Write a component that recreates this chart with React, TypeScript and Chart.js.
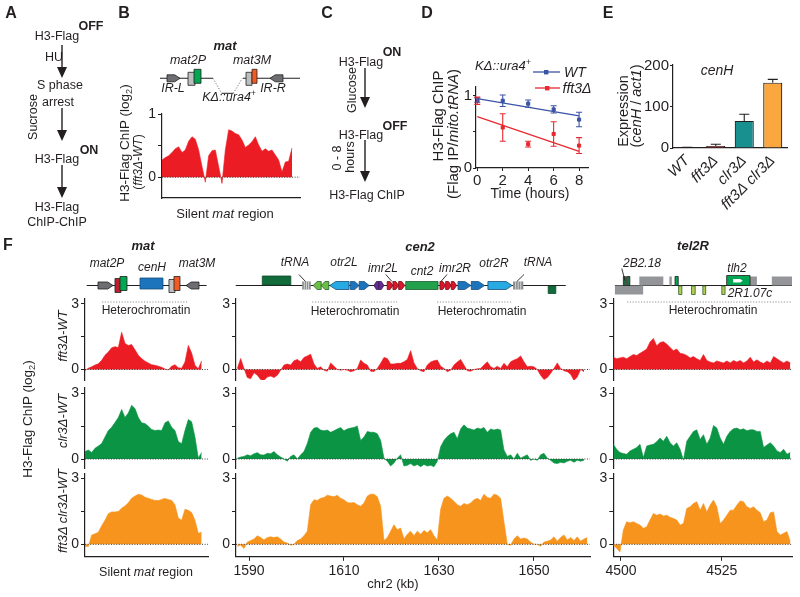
import React, { useEffect, useRef } from 'react';
import { Chart, registerables } from 'chart.js';

Chart.register(...registerables);

const FONT = "'Liberation Sans', Arial, Helvetica, sans-serif";
Chart.defaults.font.family = FONT;
Chart.defaults.color = '#231f20';
const INK = '#231f20';

// ===================== DATA =====================
// Panel B: fft3Δ - WT, H3-Flag ChIP (log2) along the silent mat region (probe index)
const B_VALUES = [0.27, 0.31, 0.34, 0.39, 0.45, 0.48, 0.39, 0.43, 0.57, 0.64, 0.6, 0.43, 0.17, -0.08, 0.34, 0.42, 0.43, 0.17, -0.1, 0.43, 0.75, 0.73, 0.69, 0.67, 0.59, 0.47, 0.51, 0.56, 0.64, 0.51, 0.41, 0.45, 0.41, 0.43, 0.35, 0.27, 0.08, 0.24, 0.25, 0.46];

// Panel D: H3-Flag ChIP over time
const D_TIMES = [0, 2, 4, 6, 8];
const D_WT = [0.94, 0.93, 0.89, 0.81, 0.67];
const D_WT_ERR = [0.03, 0.08, 0.05, 0.05, 0.1];
const D_FFT3 = [0.93, 0.56, 0.33, 0.47, 0.31];
const D_FFT3_ERR = [0.05, 0.19, 0.04, 0.17, 0.11];
const D_FIT_TIMES = [0, 8];
const D_WT_FIT = [0.96, 0.72];
const D_FFT3_FIT = [0.71, 0.23];
const D_X_TICKS = [0, 2, 4, 6, 8];

// Panel E: cenH expression
const E_STRAINS = ['WT', 'fft3Δ', 'clr3Δ', 'fft3Δ clr3Δ'];
const E_VALUES = [1, 5, 66, 159];
const E_ERR = [0.5, 4, 16, 8];
const E_COLORS = ['#3a3a3a', '#d7262d', '#17908f', '#f9a73e'];

// Panel F, mat column (probe index)
const MAT_FFT3 = [-0.05, 0.06, 0.12, 0.2, 0.26, 0.42, 0.65, 0.8, 0.99, 1.04, 1.0, 1.7, 1.19, 1.1, 1.14, 0.9, 0.65, 0.5, 0.38, 0.3, 0.22, 0.19, 0.15, 0.1, 0.02, -0.02, 0.15, 0.22, 0.08, 0.06, 0.34, 1.1, 0.75, 0.19, 0.03, 0.4];
const MAT_CLR3 = [0.34, 0.41, 0.3, 0.49, 0.59, 0.71, 1.0, 1.3, 1.45, 1.67, 1.89, 2.26, 1.9, 2.1, 2.45, 2.3, 1.9, 1.65, 1.62, 1.5, 1.35, 1.3, 1.32, 1.3, 1.65, 1.74, 1.45, 1.3, 0.8, 0.7, 1.3, 1.8, 1.7, 1.0, 0.05, 0.3];
const MAT_DOUBLE = [-0.1, -0.1, 0.42, 0.48, 0.55, 0.85, 1.1, 1.4, 1.48, 1.48, 1.5, 1.65, 1.75, 1.9, 2.1, 2.2, 2.28, 2.25, 2.15, 2.1, 2.05, 2.0, 2.0, 2.05, 2.09, 2.05, 2.0, 1.8, 1.2, 1.1, 1.6, 1.55, 1.45, 1.1, 0.5, 0.55];

// Panel F, cen2 column (chr2 kb; probes from CEN2_START every CEN2_STEP kb)
const CEN2_START = 1587.54;
const CEN2_STEP = 0.7018;
const CEN2_FFT3 = [0.05, 0.5, 0.05, -0.37, -0.42, -0.15, -0.26, -0.46, -0.5, -0.34, -0.3, -0.37, -0.26, -0.03, 0.2, 0.25, 0.2, 0.4, 0.46, 0.35, 0.55, 0.62, 0.7, 0.25, 0.05, 0.12, -0.03, -0.08, 0.3, 0.15, 0, -0.03, 0, -0.03, -0.1, -0.06, 0.05, 0.43, 0.28, 0.2, -0.08, -0.09, 0.05, 0.28, 0.55, 0.5, 0.25, 0.25, 0.28, 0.28, 0.35, 0.46, 0.86, 0.3, 0.05, -0.06, -0.1, 0.2, 0.34, 0.4, 0.43, 0.15, 0.05, -0.1, -0.03, 0.2, 0.34, 0.46, 0.2, -0.06, -0.08, 0, 0.03, 0.05, 0.2, 0.35, 0.12, 0.05, 0.15, 0.05, 0.28, 0.12, 0.35, 0.43, 0.49, 0.62, 0.35, 0.12, 0.15, 0.12, 0, -0.26, -0.46, -0.37, -0.18, 0.05, 0.3, 0.05, -0.06, -0.1, -0.22, -0.5, -0.34, 0, -0.1];
const CEN2_CLR3 = [0.04, 0.09, 0.12, 0.19, 0.15, 0.24, 0.29, 0.19, 0.18, 0.26, 0.24, 0.34, 0.19, 0.09, 0, -0.1, 0.12, 0.19, 0, 0.19, 0.34, 0.71, 1.22, 1.41, 1.44, 1.32, 1.29, 1.32, 1.22, 1.29, 1.37, 1.44, 1.29, 1.37, 1.41, 1.44, 1.51, 0.85, 1.0, 1.26, 1.22, 1.22, 1.15, 0.85, 0.04, -0.1, -0.32, -0.18, 0.04, 0.19, -0.32, -0.29, -0.21, -0.32, -0.25, -0.35, -0.25, -0.32, -0.29, -0.35, -0.1, 0.56, 0.85, 1.03, 1.15, 1.22, 0.93, 1.37, 1.56, 1.41, 1.37, 1.32, 1.41, 1.37, 1.44, 1.22, 1.37, 1.32, 1.37, 1.32, 0.41, 0.12, 0.19, 0, 0.26, 0.04, 0.12, 0.19, -0.06, 0, -0.06, 0.19, 0.26, 0.04, -0.06, -0.18, -0.21, -0.15, -0.18, -0.1, -0.06, -0.15, -0.06, -0.1, -0.06];
const CEN2_DOUBLE = [-0.09, -0.04, -0.19, 0.1, 0.17, 0.24, 0.39, 0.31, 0.2, 0.31, 0.34, 0.31, 0.34, 0.24, 0.1, 0.06, -0.04, 0, 0.17, 0.24, 0.39, 0.6, 1.81, 2.03, 2.0, 2.1, 2.14, 2.24, 2.2, 2.17, 2.24, 2.1, 2.03, 1.91, 1.89, 1.91, 1.81, 1.74, 1.89, 2.2, 2.29, 2.29, 2.17, 1.74, 0.17, 0.31, 0.6, 0.89, 0.67, 0.74, 0.24, 0.46, 0.6, 0.39, 0.6, 0.46, 0.63, 0.53, 0.67, 0.39, 0.2, 1.6, 2.1, 2.2, 2.1, 1.96, 1.81, 1.74, 1.86, 1.81, 1.89, 2.03, 2.1, 2.0, 2.29, 2.14, 2.1, 2.29, 2.24, 2.1, 1.03, 0, -0.04, 0.24, 0.39, 0.24, 0.29, 0.24, 0.1, 0, 0, -0.09, 0.1, 0.14, 0.2, 0.34, 0.14, 0.31, 0.43, 0.2, 0.31, 0.17, 0.34, 0.14, 0.24, 0.31];
const CEN2_TICKS = [1590, 1610, 1630, 1650];

// Panel F, tel2R column (kb; probes from TEL_START every TEL_STEP kb)
const TEL_START = 4498.1;
const TEL_STEP = 0.828;
const TEL_FFT3 = [0.56, 0.49, 0.53, 0.56, 0.49, 0.59, 0.68, 0.64, 0.74, 0.83, 0.93, 1.25, 1.42, 1.08, 1.23, 1.27, 1.16, 1.0, 0.86, 0.93, 0.74, 0.71, 0.64, 0.53, 0.59, 0.49, 0.41, 0.68, 0.41, 0.34, 0.3, 0.39, 0.34, 0.3, 0.39, 0.3, 0.41, 0.34, 0.41, 0.3, 0.39, 0.56, 0.34, 0.44, 0.34, 0.27, 0.39, 0.3, 0.59, 0.49, 0.39, 0.3, 0.39, 0.3];
const TEL_CLR3 = [0.67, 0.44, 0.3, 0.25, 0.22, 0.37, 0.44, 0.52, 0.67, 0.07, 0.59, 0.64, 0.67, 0.79, 0.96, 0.81, 1.04, 0.74, 0.59, 0.74, 0.44, -0.05, 0.81, 1.04, 1.26, 1.33, 0.89, 1.11, 0.67, 0.96, 1.53, 1.41, 0.96, 0.67, 1.04, 1.26, 1.38, 1.41, 1.33, 1.38, 1.29, 1.33, 1.33, 1.26, 1.26, 0.52, 0.64, 0.74, 0.59, 0.37, 0.3, 0.44, 0.22, 0.3];
const TEL_DOUBLE = [-0.03, -0.18, -0.35, 0.65, 1.03, 0.98, 1.03, 0.95, 0.88, 0.73, 0.8, 1.11, 1.41, 1.33, 1.38, 1.29, 1.33, 1.23, 1.18, 1.11, 0.88, 0.95, 1.64, 1.71, 1.86, 1.94, 1.56, 1.86, 1.48, 1.79, 2.02, 1.71, 0.95, 1.11, 1.33, 1.56, 1.56, 1.79, 1.98, 1.94, 1.71, 1.64, 1.71, 1.56, 1.44, 1.03, 1.11, 1.44, 1.48, 0.58, 0.42, 0.5, 0.58, 0.12];
const TEL_TICKS = [4500, 4525];

const ROW_Y_TICKS = [0, 1.5, 3];
const ROW_Y_LABELS = [0, 3];

// Schematic features: [kind, start, end] in each panel's x units
type Feat = [string, number, number];
const B_FEATURES: Feat[] = [
  ['line', -0.6, 15.3], ['line', 24.3, 41.4],
  ['gapDown', 15.3, 17.9], ['gapFlat', 17.9, 21.4], ['gapUp', 21.4, 24.1],
  ['irR', 1.5, 5.4], ['lgray', 7.8, 9.9], ['mat2P', 9.6, 11.7],
  ['lgray', 25.2, 27.0], ['mat3M', 27.0, 28.5], ['irL', 32.4, 36.3],
];
const MAT_FEATURES: Feat[] = [
  ['line', 0.5, 36.5], ['irR', 3.9, 8.4], ['mat2Pred', 9.0, 10.8], ['mat2P', 10.5, 12.6],
  ['cenH', 16.5, 23.4], ['lgray', 25.2, 27.0], ['mat3M', 26.7, 28.5], ['irL', 30.3, 34.2],
  ['hetero', 5.1, 30.9],
];
const CEN2_FEATURES: Feat[] = [
  ['line', 1587.2, 1656.7],
  ['geneUp', 1592.8, 1598.8],
  ['trna', 1601.2, 1603.0],
  ['otrG', 1603.5, 1605.2], ['otrG', 1605.2, 1606.8],
  ['dhL', 1607.0, 1611.05],
  ['dgR', 1611.3, 1613.2], ['dgR', 1613.2, 1615.3],
  ['imrPL', 1616.3, 1617.35], ['imrPR', 1617.35, 1618.4],
  ['imrR', 1619.1, 1620.3], ['imrR', 1620.3, 1621.5], ['imrR', 1621.5, 1622.8],
  ['cnt', 1623.0, 1629.8],
  ['imrR', 1630.2, 1631.4], ['imrR', 1631.4, 1632.6], ['imrR', 1632.6, 1633.7],
  ['dgR', 1634.0, 1636.7], ['dgR', 1636.8, 1639.6],
  ['dhR', 1640.3, 1645.4],
  ['trna', 1645.6, 1647.75],
  ['geneDown', 1653.0, 1654.6],
  ['pointer', 1600.5, 1601.9], ['pointer', 1647.9, 1646.4], ['pointer', 1618.8, 1620.1], ['pointer', 1631.7, 1630.4],
  ['hetero', 1603.3, 1621.2], ['hetero', 1629.6, 1645.2],
];
const TEL_FEATURES: Feat[] = [
  ['line', 4498.5, 4542.4],
  ['telGrayDown', 4498.5, 4505.5],
  ['tel2B', 4500.6, 4501.1], ['tel2B', 4501.4, 4502.2],
  ['telGray', 4504.55, 4510.5], ['telGray', 4512.0, 4512.6],
  ['telGreen', 4513.4, 4514.2],
  ['olive', 4514.3, 4515.1], ['olive', 4517.5, 4518.4], ['olive', 4520.3, 4521.0], ['olive', 4525.0, 4525.8],
  ['telGray', 4531.2, 4533.7],
  ['tlh2', 4526.2, 4532.0], ['tlh2Arrow', 4527.8, 4530.2],
  ['telGray', 4537.4, 4542.4],
  ['pointerTall', 4500.2, 4501.0],
  ['hetero', 4501.5, 4542.4],
];

// ===================== STYLES =====================
const RED = '#ec1c24';
const GREEN = '#0b9444';
const ORANGE = '#f7941d';
const BLUE = '#3b54a5';
const DRED = '#e8282f';

type FStyle = { shape: string; y0: number; y1: number; fill?: string; stroke?: string; dash?: boolean; lw?: number; noStroke?: boolean };
const FEAT_STYLE: Record<string, FStyle> = {
  line: { shape: 'seg', y0: 0, y1: 0, stroke: INK, lw: 1.1 },
  gapDown: { shape: 'seg', y0: 0, y1: 15, stroke: '#555', dash: true },
  gapFlat: { shape: 'seg', y0: 15, y1: 15, stroke: INK, lw: 1 },
  gapUp: { shape: 'seg', y0: 15, y1: 0, stroke: '#555', dash: true },
  hetero: { shape: 'seg', y0: 16.5, y1: 16.5, stroke: '#777', dash: true },
  pointer: { shape: 'seg', y0: -11, y1: -4, stroke: INK, lw: 0.9 },
  pointerTall: { shape: 'seg', y0: -17, y1: -5, stroke: INK, lw: 0.9 },
  irR: { shape: 'arrowR', y0: -3.5, y1: 3.5, fill: '#6d6e71' },
  irL: { shape: 'arrowL', y0: -3.5, y1: 3.5, fill: '#6d6e71' },
  lgray: { shape: 'box', y0: -6, y1: 7, fill: '#bcbec0' },
  mat2P: { shape: 'box', y0: -9, y1: 5, fill: '#00a651' },
  mat2Pred: { shape: 'box', y0: -7, y1: 7, fill: '#be1e2d' },
  mat3M: { shape: 'box', y0: -9, y1: 5, fill: '#f15a24' },
  cenH: { shape: 'box', y0: -7.5, y1: 3.5, fill: '#1c75bc', stroke: '#1b4b7a' },
  trna: { shape: 'trna', y0: -4, y1: 4, fill: '#8a8c8e', noStroke: true },
  otrG: { shape: 'arrowL', y0: -4, y1: 4, fill: '#6abd45', stroke: '#275e2a' },
  dhL: { shape: 'arrowL', y0: -4, y1: 4, fill: '#27aae1', stroke: '#1f4e79' },
  dhR: { shape: 'arrowR', y0: -4, y1: 4, fill: '#27aae1', stroke: '#1f4e79' },
  dgR: { shape: 'arrowR', y0: -4, y1: 4, fill: '#1c75bc', stroke: '#1f4e79' },
  imrPL: { shape: 'arrowL', y0: -4, y1: 4, fill: '#662d91', stroke: '#3b1a55' },
  imrPR: { shape: 'arrowR', y0: -4, y1: 4, fill: '#662d91', stroke: '#3b1a55' },
  imrR: { shape: 'arrowR', y0: -4, y1: 4, fill: '#d7182a', stroke: '#7a0d16' },
  cnt: { shape: 'box', y0: -4, y1: 4, fill: '#22a04b', stroke: '#1a5e2f' },
  geneUp: { shape: 'box', y0: -9.5, y1: -0.5, fill: '#126b3b', stroke: '#0c4a28' },
  geneDown: { shape: 'box', y0: 0.5, y1: 8, fill: '#126b3b', stroke: '#0c4a28' },
  telGray: { shape: 'box', y0: -9, y1: 0, fill: '#939598', noStroke: true },
  telGrayDown: { shape: 'box', y0: 0, y1: 9, fill: '#939598', noStroke: true },
  tel2B: { shape: 'box', y0: -9, y1: 0, fill: '#1f6f43' },
  telGreen: { shape: 'box', y0: -9, y1: 0, fill: '#00a651' },
  olive: { shape: 'box', y0: 0.5, y1: 9, fill: '#b5cf4f', stroke: '#2c5e2e' },
  tlh2: { shape: 'box', y0: -10, y1: 0, fill: '#00a651', stroke: INK },
  tlh2Arrow: { shape: 'arrowR', y0: -6.5, y1: -3, fill: '#ffffff', noStroke: true },
};

// ===================== HELPERS =====================
type Rect = { l: number; t: number; w: number; h: number };
type Area = { l: number; t: number; r: number; b: number };

function framing(c: Rect, a: Area) {
  return { yW: a.l - c.l, padTop: a.t - c.t, padRight: c.l + c.w - a.r, xH: c.t + c.h - a.b };
}

function drawFeatures(chart: any, feats: Feat[], lineY: number) {
  const ctx = chart.ctx;
  const xs = chart.scales.x;
  ctx.save();
  for (const [kind, a, b] of feats) {
    const st = FEAT_STYLE[kind];
    if (!st) continue;
    const x0 = xs.getPixelForValue(a);
    const x1 = xs.getPixelForValue(b);
    const y0 = lineY + st.y0;
    const y1 = lineY + st.y1;
    ctx.setLineDash(st.dash ? [1.2, 1.6] : []);
    ctx.lineWidth = st.lw ?? 0.8;
    ctx.strokeStyle = st.stroke ?? INK;
    ctx.beginPath();
    if (st.shape === 'seg') {
      ctx.moveTo(x0, y0);
      ctx.lineTo(x1, y1);
      ctx.stroke();
      continue;
    }
    const left = Math.min(x0, x1);
    const right = Math.max(x0, x1);
    const h = y1 - y0;
    const mid = (y0 + y1) / 2;
    const hd = Math.min(h * 0.75, (right - left) * 0.5);
    if (st.shape === 'box' || st.shape === 'trna') {
      ctx.rect(left, y0, right - left, h);
    } else if (st.shape === 'arrowR') {
      ctx.moveTo(left, y0);
      ctx.lineTo(right - hd, y0);
      ctx.lineTo(right, mid);
      ctx.lineTo(right - hd, y1);
      ctx.lineTo(left, y1);
      ctx.closePath();
    } else if (st.shape === 'arrowL') {
      ctx.moveTo(right, y0);
      ctx.lineTo(left + hd, y0);
      ctx.lineTo(left, mid);
      ctx.lineTo(left + hd, y1);
      ctx.lineTo(right, y1);
      ctx.closePath();
    }
    ctx.fillStyle = st.fill ?? 'transparent';
    ctx.fill();
    if (!st.noStroke) ctx.stroke();
    if (st.shape === 'trna') {
      ctx.strokeStyle = '#e6e7e8';
      ctx.lineWidth = 0.8;
      ctx.beginPath();
      for (let k = 1; k < 4; k++) {
        const xx = left + ((right - left) * k) / 4;
        ctx.moveTo(xx, y0);
        ctx.lineTo(xx, y1);
      }
      ctx.stroke();
    }
  }
  ctx.restore();
}

function errorBarPlugin(cap: number, upOnly: boolean) {
  return {
    id: 'errbars',
    afterDatasetsDraw(chart: any) {
      const ctx = chart.ctx;
      const ys = chart.scales.y;
      chart.data.datasets.forEach((ds: any, di: number) => {
        if (!ds.errors) return;
        const meta = chart.getDatasetMeta(di);
        ctx.save();
        ctx.strokeStyle = ds.errColor || ds.borderColor;
        ctx.lineWidth = 1.1;
        meta.data.forEach((el: any, i: number) => {
          const raw = ds.data[i];
          const v = typeof raw === 'number' ? raw : raw.y;
          const e = ds.errors[i];
          const top = ys.getPixelForValue(v + e);
          const bot = upOnly ? ys.getPixelForValue(v) : ys.getPixelForValue(v - e);
          const x = el.x;
          ctx.beginPath();
          ctx.moveTo(x, top);
          ctx.lineTo(x, bot);
          ctx.moveTo(x - cap / 2, top);
          ctx.lineTo(x + cap / 2, top);
          if (!upOnly) {
            ctx.moveTo(x - cap / 2, bot);
            ctx.lineTo(x + cap / 2, bot);
          }
          ctx.stroke();
        });
        ctx.restore();
      });
    },
  };
}

function yAxis(p: { min: number; max: number; ticks: number[]; labeled: number[]; yW: number; size: number; tl?: number; pad?: number }) {
  return {
    type: 'linear',
    position: 'left',
    min: p.min,
    max: p.max,
    afterBuildTicks: (s: any) => {
      s.ticks = p.ticks.map((v) => ({ value: v }));
    },
    afterFit: (s: any) => {
      s.width = p.yW;
    },
    grid: { display: true, drawOnChartArea: false, drawTicks: true, tickLength: p.tl ?? 4, color: INK, lineWidth: 1 },
    border: { display: true, color: INK, width: 1.2 },
    ticks: {
      font: { size: p.size },
      color: INK,
      padding: p.pad ?? 2,
      callback: (v: number) => (p.labeled.some((l) => Math.abs(l - v) < 1e-9) ? String(v) : ''),
    },
  };
}

function xAxisLinear(p: { min: number; max: number; xH: number; ticks?: number[]; line: boolean; size?: number }) {
  const showTicks = !!(p.ticks && p.ticks.length);
  return {
    type: 'linear',
    position: 'bottom',
    min: p.min,
    max: p.max,
    afterBuildTicks: (s: any) => {
      s.ticks = (p.ticks || []).map((v) => ({ value: v }));
    },
    afterFit: (s: any) => {
      s.height = p.xH;
    },
    grid: { display: showTicks, drawOnChartArea: false, drawTicks: showTicks, tickLength: 4, color: INK, lineWidth: 1 },
    border: { display: p.line, color: INK, width: 1.2 },
    ticks: { display: showTicks, font: { size: p.size ?? 14 }, color: INK, padding: 2, callback: (v: number) => String(v) },
  };
}

type ProfileOpts = {
  rect: Rect;
  area: Area;
  x0: number;
  dx: number;
  ys: number[];
  color: string;
  xMin: number;
  xMax: number;
  yMin: number;
  yMax: number;
  yTicks: number[];
  yLabeled: number[];
  xTicks?: number[];
  xLine: boolean;
  feats?: Feat[];
  lineY?: number;
};

function profileConfig(o: ProfileOpts) {
  const f = framing(o.rect, o.area);
  const pts = o.ys.map((y, i) => ({ x: o.x0 + i * o.dx, y }));
  const plugins: any[] = [];
  if (o.feats) {
    const feats = o.feats;
    const ly = (o.lineY as number) - o.rect.t;
    plugins.push({ id: 'schematic', afterDraw: (c: any) => drawFeatures(c, feats, ly) });
  }
  return {
    type: 'line',
    data: {
      datasets: [
        {
          data: [{ x: o.xMin, y: 0 }, { x: o.xMax, y: 0 }],
          borderColor: '#3a3a3a',
          borderWidth: 1,
          borderDash: [1, 1.6],
          pointRadius: 0,
          fill: false,
          order: 0,
        },
        {
          data: pts,
          borderColor: o.color,
          backgroundColor: o.color,
          borderWidth: 0.6,
          pointRadius: 0,
          fill: 'origin',
          tension: 0,
          order: 1,
        },
      ],
    },
    options: {
      responsive: false,
      animation: false,
      events: [],
      layout: { padding: { top: f.padTop, right: f.padRight, left: 0, bottom: 0 } },
      plugins: { legend: { display: false }, tooltip: { enabled: false } },
      scales: {
        x: xAxisLinear({ min: o.xMin, max: o.xMax, xH: f.xH, ticks: o.xTicks, line: o.xLine }),
        y: yAxis({ min: o.yMin, max: o.yMax, ticks: o.yTicks, labeled: o.yLabeled, yW: f.yW, size: 14 }),
      },
    },
    plugins,
  };
}

function dConfig(rect: Rect, area: Area) {
  const f = framing(rect, area);
  return {
    type: 'line',
    data: {
      datasets: [
        { data: D_FIT_TIMES.map((t, i) => ({ x: t, y: D_WT_FIT[i] })), borderColor: BLUE, borderWidth: 1.3, pointRadius: 0, fill: false },
        { data: D_FIT_TIMES.map((t, i) => ({ x: t, y: D_FFT3_FIT[i] })), borderColor: DRED, borderWidth: 1.3, pointRadius: 0, fill: false },
        { data: D_TIMES.map((t, i) => ({ x: t, y: D_WT[i] })), showLine: false, pointStyle: 'rect', pointRadius: 2.2, backgroundColor: BLUE, borderColor: BLUE, errors: D_WT_ERR },
        { data: D_TIMES.map((t, i) => ({ x: t, y: D_FFT3[i] })), showLine: false, pointStyle: 'rect', pointRadius: 2.2, backgroundColor: DRED, borderColor: DRED, errors: D_FFT3_ERR },
      ],
    },
    options: {
      responsive: false,
      animation: false,
      events: [],
      layout: { padding: { top: f.padTop, right: f.padRight, left: 0, bottom: 0 } },
      plugins: { legend: { display: false }, tooltip: { enabled: false } },
      scales: {
        x: {
          type: 'linear',
          min: -0.1,
          max: 8.7,
          afterBuildTicks: (s: any) => {
            s.ticks = D_X_TICKS.map((v) => ({ value: v }));
          },
          afterFit: (s: any) => {
            s.height = f.xH;
          },
          grid: { display: true, drawOnChartArea: false, drawTicks: true, tickLength: 3, color: INK },
          border: { display: true, color: INK, width: 1.2 },
          ticks: { font: { size: 15 }, color: INK, padding: 1, callback: (v: number) => String(v) },
        },
        y: yAxis({ min: 0, max: 1.12, ticks: [0, 0.5, 1], labeled: [0, 1], yW: f.yW, size: 15, tl: 3, pad: 1 }),
      },
    },
    plugins: [errorBarPlugin(6, false)],
  };
}

function eConfig(rect: Rect, area: Area) {
  const f = framing(rect, area);
  return {
    type: 'bar',
    data: {
      labels: E_STRAINS,
      datasets: [
        {
          data: E_VALUES,
          backgroundColor: E_COLORS,
          borderColor: INK,
          borderWidth: 1.2,
          barPercentage: 0.67,
          categoryPercentage: 1,
          errors: E_ERR,
          errColor: INK,
        },
      ],
    },
    options: {
      responsive: false,
      animation: false,
      events: [],
      layout: { padding: { top: f.padTop, right: f.padRight, left: 0, bottom: 0 } },
      plugins: { legend: { display: false }, tooltip: { enabled: false } },
      scales: {
        x: {
          type: 'category',
          afterFit: (s: any) => {
            s.height = f.xH;
          },
          grid: { display: false, drawTicks: false },
          border: { display: true, color: INK, width: 1.2 },
          ticks: { font: { size: 15, style: 'italic' }, color: INK, minRotation: 45, maxRotation: 45, padding: 4, autoSkip: false },
        },
        y: yAxis({ min: 0, max: 202, ticks: [0, 100, 200], labeled: [0, 100, 200], yW: f.yW, size: 15, tl: 3, pad: 1 }),
      },
    },
    plugins: [errorBarPlugin(10, true)],
  };
}

function ChartCanvas({ rect, config }: { rect: Rect; config: () => any }) {
  const ref = useRef<HTMLCanvasElement | null>(null);
  useEffect(() => {
    if (!ref.current) return;
    const ch = new Chart(ref.current, config());
    return () => ch.destroy();
  }, []);
  return (
    <canvas
      ref={ref}
      width={rect.w}
      height={rect.h}
      style={{ position: 'absolute', left: rect.l, top: rect.t, width: rect.w, height: rect.h }}
    />
  );
}

function T(props: { x: number; y: number; s?: number; b?: boolean; i?: boolean; r?: number; c?: string; children: React.ReactNode }) {
  const { x, y, s = 13, b, i, r, c = INK, children } = props;
  return (
    <div
      style={{
        position: 'absolute',
        left: x,
        top: y,
        transform: `translate(-50%, -50%)${r ? ` rotate(${r}deg)` : ''}`,
        fontSize: s,
        fontWeight: b ? 700 : 400,
        fontStyle: i ? 'italic' : 'normal',
        color: c,
        whiteSpace: 'nowrap',
        lineHeight: 1,
      }}
    >
      {children}
    </div>
  );
}

const Sub = ({ children }: { children: React.ReactNode }) => (
  <span style={{ fontSize: '0.68em', verticalAlign: '-0.3em', lineHeight: 0 }}>{children}</span>
);
const Sup = ({ children }: { children: React.ReactNode }) => (
  <span style={{ fontSize: '0.68em', verticalAlign: '0.55em', lineHeight: 0 }}>{children}</span>
);

function Arrow({ x, y1, y2 }: { x: number; y1: number; y2: number }) {
  return (
    <g>
      <line x1={x} y1={y1} x2={x} y2={y2 - 8} stroke={INK} strokeWidth={1.4} />
      <polygon points={`${x - 5},${y2 - 11} ${x + 5},${y2 - 11} ${x},${y2}`} fill={INK} />
    </g>
  );
}

// ===================== LAYOUT =====================
const B_RECT: Rect = { l: 135, t: 40, w: 175, h: 172 };
const B_AREA: Area = { l: 162, t: 114, r: 300, b: 198 };
const D_RECT: Rect = { l: 440, t: 60, w: 155, h: 140 };
const D_AREA: Area = { l: 476, t: 87, r: 588, b: 168 };
const E_RECT: Rect = { l: 630, t: 50, w: 165, h: 160 };
const E_AREA: Area = { l: 673, t: 65, r: 787, b: 148 };

const GENE_LINE_Y = 285.5;
const B_LINE_Y = 78.3;

const F_COLS = [
  { l: 85, r: 208.3, cl: 60, cw: 155, xMin: 0, xMax: 37, x0: 0, dx: 1, feats: MAT_FEATURES, ticks: [] as number[], series: [MAT_FFT3, MAT_CLR3, MAT_DOUBLE] },
  { l: 236, r: 590, cl: 211, cw: 386, xMin: 1587.26, xMax: 1661.8, x0: CEN2_START, dx: CEN2_STEP, feats: CEN2_FEATURES, ticks: CEN2_TICKS, series: [CEN2_FFT3, CEN2_CLR3, CEN2_DOUBLE] },
  { l: 613.3, r: 792, cl: 588, cw: 210, xMin: 4498.1, xMax: 4542.4, x0: TEL_START, dx: TEL_STEP, feats: TEL_FEATURES, ticks: TEL_TICKS, series: [TEL_FFT3, TEL_CLR3, TEL_DOUBLE] },
];
const F_ROWS = [
  { t: 298.3, b: 380, yMin: -0.48, ct: 252, ch: 140, color: RED },
  { t: 387.8, b: 468, yMin: -0.41, ct: 376, ch: 104, color: GREEN },
  { t: 473.1, b: 556.8, yMin: -0.57, ct: 461, ch: 133, color: ORANGE },
];
const Y_MAX = 3.25;

export default function App() {
  const fCharts: React.ReactNode[] = [];
  F_COLS.forEach((col, ci) => {
    F_ROWS.forEach((row, ri) => {
      const rect: Rect = { l: col.cl, t: row.ct, w: col.cw, h: row.ch };
      const area: Area = { l: col.l, t: row.t, r: col.r, b: row.b };
      const last = ri === 2;
      fCharts.push(
        <ChartCanvas
          key={`f${ci}${ri}`}
          rect={rect}
          config={() =>
            profileConfig({
              rect,
              area,
              x0: col.x0,
              dx: col.dx,
              ys: col.series[ri],
              color: row.color,
              xMin: col.xMin,
              xMax: col.xMax,
              yMin: row.yMin,
              yMax: Y_MAX,
              yTicks: ROW_Y_TICKS,
              yLabeled: ROW_Y_LABELS,
              xTicks: last ? col.ticks : undefined,
              xLine: last,
              feats: ri === 0 ? col.feats : undefined,
              lineY: GENE_LINE_Y,
            })
          }
        />
      );
    });
  });

  return (
    <div style={{ position: 'absolute', left: 0, top: 0, width: 800, height: 597, background: '#fff', overflow: 'hidden', fontFamily: FONT, color: INK }}>
      <ChartCanvas
        rect={B_RECT}
        config={() =>
          profileConfig({
            rect: B_RECT,
            area: B_AREA,
            x0: 0,
            dx: 1,
            ys: B_VALUES,
            color: RED,
            xMin: 0,
            xMax: 41.4,
            yMin: -0.33,
            yMax: 1,
            yTicks: [0, 0.5, 1],
            yLabeled: [0, 1],
            xLine: true,
            feats: B_FEATURES,
            lineY: B_LINE_Y,
          })
        }
      />
      <ChartCanvas rect={D_RECT} config={() => dConfig(D_RECT, D_AREA)} />
      <ChartCanvas rect={E_RECT} config={() => eConfig(E_RECT, E_AREA)} />
      {fCharts}

      <svg width={800} height={597} style={{ position: 'absolute', left: 0, top: 0 }}>
        <Arrow x={62} y1={45} y2={78} />
        <Arrow x={62} y1={108} y2={141} />
        <Arrow x={62} y1={165} y2={198} />
        <Arrow x={365} y1={68} y2={108} />
        <Arrow x={365} y1={140} y2={182} />
        <line x1={533} y1={72} x2={560} y2={72} stroke={BLUE} strokeWidth={1.3} />
        <rect x={544} y={70} width={4.4} height={4.4} fill={BLUE} />
        <line x1={535} y1={88} x2={560} y2={88} stroke={DRED} strokeWidth={1.3} />
        <rect x={545} y={86} width={4.4} height={4.4} fill={DRED} />
      </svg>

      {/* panel letters */}
      <T x={11} y={13} s={16} b>A</T>
      <T x={124} y={13} s={16} b>B</T>
      <T x={327} y={13} s={16} b>C</T>
      <T x={427} y={13} s={16} b>D</T>
      <T x={608} y={13} s={16} b>E</T>
      <T x={8} y={245} s={16} b>F</T>

      {/* Panel A */}
      <T x={57} y={36} s={12.5}>H3-Flag</T>
      <T x={91} y={26} s={12.5} b>OFF</T>
      <T x={54} y={57} s={12.5}>HU</T>
      <T x={60} y={85} s={12.5}>S phase</T>
      <T x={58} y={102} s={12.5}>arrest</T>
      <T x={33} y={117} s={12.5} r={-90}>Sucrose</T>
      <T x={57} y={159} s={12.5}>H3-Flag</T>
      <T x={89} y={150} s={12.5} b>ON</T>
      <T x={57} y={207} s={12.5}>H3-Flag</T>
      <T x={57} y={222} s={12.5}>ChIP-ChIP</T>

      {/* Panel B */}
      <T x={225} y={45} s={13} b i>mat</T>
      <T x={188} y={60} s={12.5} i>mat2P</T>
      <T x={252} y={60} s={12.5} i>mat3M</T>
      <T x={173} y={88} s={12.5} i>IR-L</T>
      <T x={273} y={88} s={12.5} i>IR-R</T>
      <T x={229} y={97} s={12.5} i>KΔ::ura4<Sup>+</Sup></T>
      <T x={125} y={143} s={13.5} r={-90}>H3-Flag ChIP (log<Sub>2</Sub>)</T>
      <T x={138} y={162} s={12} r={-90}>(<i>fft3Δ-WT</i>)</T>
      <T x={225} y={213} s={13}>Silent <i>mat</i> region</T>

      {/* Panel C */}
      <T x={361} y={62} s={12.5}>H3-Flag</T>
      <T x={392} y={52} s={12.5} b>ON</T>
      <T x={352} y={90} s={12.5} r={-90}>Glucose</T>
      <T x={361} y={135} s={12.5}>H3-Flag</T>
      <T x={395} y={126} s={12.5} b>OFF</T>
      <T x={337} y={158} s={12.5} r={-90}>0 - 8</T>
      <T x={350} y={157} s={12.5} r={-90}>hours</T>
      <T x={367} y={195} s={12.5}>H3-Flag ChIP</T>

      {/* Panel D */}
      <T x={503} y={65} s={13} i>KΔ::ura4<Sup>+</Sup></T>
      <T x={575} y={72} s={14} i>WT</T>
      <T x={577} y={88} s={14} i>fft3Δ</T>
      <T x={437} y={116} s={15} r={-90}>H3-Flag ChIP</T>
      <T x={452} y={134} s={15} r={-90}>(Flag IP/<i>mito.tRNA</i>)</T>
      <T x={530} y={193} s={14}>Time (hours)</T>

      {/* Panel E */}
      <T x={717} y={70} s={14} i>cenH</T>
      <T x={623} y={111} s={14.5} r={-90}>Expression</T>
      <T x={636} y={106} s={14.5} r={-90}>(<i>cenH</i> / <i>act1</i>)</T>

      {/* Panel F headers */}
      <T x={143} y={245} s={13} b i>mat</T>
      <T x={420} y={246} s={13} b i>cen2</T>
      <T x={693} y={245} s={13} b i>tel2R</T>
      <T x={107} y={263} s={12} i>mat2P</T>
      <T x={152} y={267} s={12} i>cenH</T>
      <T x={197} y={263} s={12} i>mat3M</T>
      <T x={295} y={262} s={12} i>tRNA</T>
      <T x={344} y={262} s={12} i>otr2L</T>
      <T x={383} y={268} s={12} i>imr2L</T>
      <T x={422} y={271} s={12} i>cnt2</T>
      <T x={455} y={268} s={12} i>imr2R</T>
      <T x={494} y={263} s={12} i>otr2R</T>
      <T x={538} y={262} s={12} i>tRNA</T>
      <T x={642} y={263} s={12} i>2B2.18</T>
      <T x={737} y={268} s={12} i>tlh2</T>
      <T x={750} y={293} s={12} i>2R1.07c</T>
      <T x={146} y={310} s={12}>Heterochromatin</T>
      <T x={355} y={310.5} s={12}>Heterochromatin</T>
      <T x={482} y={310.5} s={12}>Heterochromatin</T>
      <T x={713} y={310} s={12}>Heterochromatin</T>

      <T x={61.5} y={336} s={13} i r={-90}>fft3Δ-WT</T>
      <T x={61.5} y={421} s={13} i r={-90}>clr3Δ-WT</T>
      <T x={61.5} y={511} s={13} i r={-90}>fft3Δ clr3Δ-WT</T>
      <T x={28} y={419} s={13.5} r={-90}>H3-Flag ChIP (log<Sub>2</Sub>)</T>
      <T x={146} y={572} s={12.5}>Silent <i>mat</i> region</T>
      <T x={393} y={583} s={13}>chr2 (kb)</T>
    </div>
  );
}
